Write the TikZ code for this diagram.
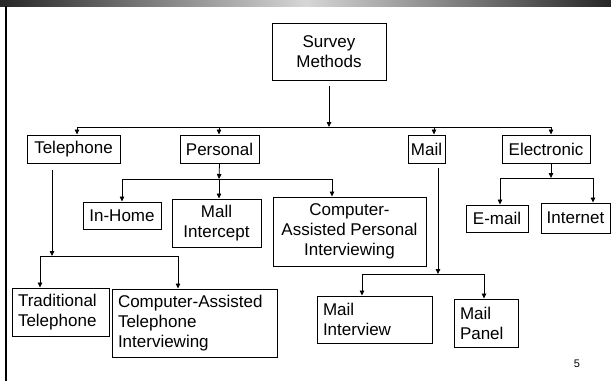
\documentclass[tikz,border=0pt]{standalone}
\usepackage{fontspec}
\setmainfont{Liberation Sans}
\usetikzlibrary{arrows.meta}
\definecolor{BannerDark}{HTML}{262626}
\definecolor{BannerLight}{HTML}{D6D6D6}

\tikzset{
  methodbox/.style={draw=black, line width=1pt, align=center, inner sep=0pt,
    font=\fontsize{17}{20}\selectfont},
  notebox/.style={methodbox, align=left, inner xsep=6pt},
  link/.style={line width=0.8pt},
  linkarrow/.style={link, -{Triangle[length=5pt,width=4.5pt]}}
}

\begin{document}
\begin{tikzpicture}[x=1pt, y=-1pt]
  \useasboundingbox (0,0) rectangle (611,381);
  % slide frame
  \shade[left color=BannerDark, right color=BannerDark, middle color=BannerLight] (0,0) rectangle (611,6);
  \draw[line width=1.5pt] (6,6) -- (6,381);

  % top
  \node[methodbox, minimum width=114pt, minimum height=57pt] (survey) at (329,51.5) {Survey\\Methods};

  % first level
  \node[methodbox, minimum width=93pt, minimum height=28pt] (tel) at (73.5,149) {Telephone};
  \node[methodbox, minimum width=79pt, minimum height=28pt] (pers) at (219.5,149) {Personal};
  \node[methodbox, minimum width=37pt, minimum height=28pt] (mail) at (426.5,149) {Mail};
  \node[methodbox, minimum width=88pt, minimum height=28pt] (elec) at (546,149) {Electronic};

  % personal
  \node[methodbox, minimum width=78pt, minimum height=27pt] (inhome) at (122,215.5) {In-Home};
  \node[methodbox, minimum width=89pt, minimum height=48pt] (mallint) at (216.5,223) {Mall\\Intercept};
  \node[methodbox, minimum width=153pt, minimum height=69pt] (capi) at (349.5,231.5) {Computer-\\Assisted Personal\\Interviewing};

  % electronic
  \node[methodbox, minimum width=62pt, minimum height=27pt] (email) at (497,218.5) {E-mail};
  \node[methodbox, minimum width=69pt, minimum height=30pt] (internet) at (575.5,218) {Internet};

  % telephone
  \node[notebox, text width=85pt, minimum height=48pt] (trad) at (60.5,312) {Traditional\\Telephone};
  \node[notebox, text width=153pt, minimum height=68pt] (cati) at (194.5,323) {Computer-Assisted\\Telephone\\Interviewing};

  % mail
  \node[notebox, text width=103pt, minimum height=47pt] (mailiv) at (374.5,319.5) {Mail\\Interview};
  \node[notebox, text width=52pt, minimum height=48pt] (mailpan) at (486,323) {Mail\\Panel};

  \node[font=\fontsize{11}{13}\selectfont] (pagenum) at (577,364) {5};

  % connectors
  \coordinate (topbus) at (329,127);
  \draw[linkarrow, shorten <=5pt] (survey.south) -- (topbus);
  \draw[link] (77,127) -- (551,127);
  \foreach \n/\x in {tel/77, pers/219, mail/434, elec/551}
    \draw[linkarrow] (\x,127) -- (\x,127 |- \n.north);

  \coordinate (persbus) at (219,179);
  \draw[linkarrow] (pers.south) -- (persbus);
  \draw[link] (122,179) -- (332,179);
  \foreach \n/\x in {inhome/122, mallint/219, capi/332}
    \draw[linkarrow] (\x,179) -- (\x,179 |- \n.north);

  \coordinate (elecbus) at (551,178);
  \draw[linkarrow] (elec.south -| elecbus) -- (elecbus);
  \draw[link] (500,178) -- (593,178);
  \foreach \n/\x in {email/500, internet/593}
    \draw[linkarrow] (\x,178) -- (\x,178 |- \n.north);

  \coordinate (telbus) at (52,256);
  \draw[linkarrow, shorten <=6pt] (tel.south -| telbus) -- (telbus);
  \draw[link] (40,256) -- (178,256);
  \foreach \n/\x in {trad/40, cati/178}
    \draw[linkarrow] (\x,256) -- (\x,256 |- \n.north);

  \coordinate (mailbus) at (438,274);
  \draw[linkarrow, shorten <=4pt] (mail.south -| mailbus) -- (mailbus);
  \draw[link] (362,274) -- (484,274);
  \foreach \n/\x in {mailiv/362, mailpan/484}
    \draw[linkarrow] (\x,274) -- (\x,274 |- \n.north);
\end{tikzpicture}
\end{document}
